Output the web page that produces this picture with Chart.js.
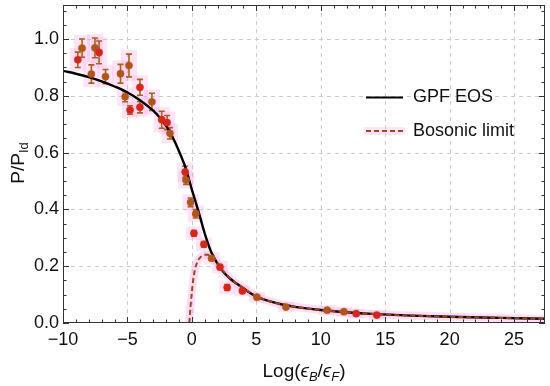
<!DOCTYPE html>
<html><head><meta charset="utf-8">
<script src="https://cdn.jsdelivr.net/npm/chart.js@4"></script>
<style>html,body{margin:0;padding:0;background:#fff}#wrap{width:550px;height:386px}</style>
</head><body><div id="wrap"><canvas id="c" width="550" height="386"></canvas></div>
<script>
// ---- data ----
const gpfX = [-10, -9, -8, -7, -6, -5, -4, -3, -2.5, -2, -1.5, -1, -0.5, 0, 0.5, 1, 1.5, 2, 2.5, 3, 3.5, 4, 5, 6, 7, 8, 10, 12, 14, 17, 20, 24, 27.4];
const gpfY = [0.888, 0.878, 0.866, 0.851, 0.833, 0.812, 0.784, 0.748, 0.724, 0.694, 0.655, 0.605, 0.548, 0.47, 0.395, 0.315, 0.25, 0.208, 0.177, 0.155, 0.138, 0.122, 0.093, 0.077, 0.065, 0.057, 0.046, 0.038, 0.032, 0.026, 0.022, 0.018, 0.015];

const bosX = [-0.2, -0.1, 0, 0.1, 0.25, 0.5, 0.75, 1, 1.25, 1.5, 1.75, 2, 2.5, 3, 4, 5, 6, 7, 8, 10, 12, 14, 17, 20, 24, 27.4];
const bosY = [0, 0.06, 0.11, 0.15, 0.19, 0.222, 0.235, 0.24, 0.24, 0.235, 0.225, 0.21, 0.18, 0.157, 0.122, 0.094, 0.077, 0.065, 0.057, 0.046, 0.038, 0.032, 0.026, 0.022, 0.018, 0.014];

const redX   = [-8.85, -7.2, -4.8, -4.03, -4.03, -2.34, -1.92, -0.52, 0.16, 0.93, 2.18, 2.74, 3.92, 12.75, 14.35];
const redY   = [0.927, 0.953, 0.750, 0.830, 0.760, 0.716, 0.706, 0.532, 0.316, 0.277, 0.197, 0.125, 0.113, 0.033, 0.028];
const redErr = [0.027, 0.040, 0.015, 0.028, 0.020, 0.030, 0.025, 0.020, 0.010, 0.010, 0.008, 0.010, 0.005, 0.003, 0.003];

const brownX   = [-8.52, -7.8, -7.52, -6.7, -5.54, -5.18, -4.88, -3.1, -1.7, -0.45, -0.1, 0.3, 1.53, 5.05, 7.3, 10.5, 11.8];
const brownY   = [0.968, 0.877, 0.969, 0.868, 0.878, 0.797, 0.907, 0.779, 0.668, 0.503, 0.425, 0.385, 0.228, 0.091, 0.056, 0.045, 0.040];
const brownErr = [0.032, 0.032, 0.035, 0.025, 0.033, 0.018, 0.040, 0.030, 0.020, 0.015, 0.015, 0.015, 0.008, 0.005, 0.004, 0.004, 0.004];

const xMajorTicks = [-10, -5, 0, 5, 10, 15, 20, 25];
const yMajorTicks = [0, 0.2, 0.4, 0.6, 0.8, 1.0];
const seriesLabels = ['GPF EOS', 'Bosonic limit'];
const xMin = -10, xMax = 27.4, yMin = 0, yMax = 1.12;

// ---- helpers ----
const pts = (xs, ys) => xs.map((v, i) => ({x: v, y: ys[i]}));
const FONT = '"Liberation Sans", Arial, sans-serif';
const errMap = {red: redErr, brown: brownErr};

const decor = {
  id: 'decor',
  beforeDatasetsDraw(chart) {
    const {ctx, chartArea: a, scales: {x, y}} = chart;
    ctx.save();
    // dashed grid
    ctx.strokeStyle = '#cccccc';
    ctx.lineWidth = 1;
    ctx.setLineDash([4, 4]);
    ctx.beginPath();
    xMajorTicks.forEach(v => {
      const px = Math.round(x.getPixelForValue(v)) + 0.5;
      if (px <= a.left + 1 || px >= a.right - 1) return;
      ctx.moveTo(px, a.top); ctx.lineTo(px, a.bottom);
    });
    yMajorTicks.forEach(v => {
      const py = Math.round(y.getPixelForValue(v)) + 0.5;
      if (py <= a.top + 1 || py >= a.bottom - 1) return;
      ctx.moveTo(a.left, py); ctx.lineTo(a.right, py);
    });
    ctx.stroke();
    ctx.setLineDash([]);
    // pink halos + error bars
    chart.data.datasets.forEach((ds) => {
      const errs = errMap[ds.label];
      if (!errs) return;
      ds.data.forEach((p, i) => {
        const px = x.getPixelForValue(p.x);
        const yt = y.getPixelForValue(p.y + errs[i]);
        const yb = y.getPixelForValue(p.y - errs[i]);
        ctx.fillStyle = 'rgba(255,150,225,0.26)';
        ctx.fillRect(px - 8, yt - 4, 16, yb - yt + 8);
      });
    });
    chart.data.datasets.forEach((ds) => {
      const errs = errMap[ds.label];
      if (!errs) return;
      ctx.strokeStyle = '#a8621f';
      ctx.lineWidth = 1.6;
      ds.data.forEach((p, i) => {
        const px = x.getPixelForValue(p.x);
        const yt = y.getPixelForValue(p.y + errs[i]);
        const yb = y.getPixelForValue(p.y - errs[i]);
        ctx.beginPath();
        ctx.moveTo(px, yt); ctx.lineTo(px, yb);
        ctx.moveTo(px - 3, yt); ctx.lineTo(px + 3, yt);
        ctx.moveTo(px - 3, yb); ctx.lineTo(px + 3, yb);
        ctx.stroke();
      });
    });
    ctx.restore();
  },
  afterDraw(chart) {
    const {ctx, chartArea: a, scales: {x, y}} = chart;
    ctx.save();
    // frame
    ctx.strokeStyle = '#333';
    ctx.lineWidth = 1;
    ctx.strokeRect(Math.round(a.left) + 0.5, Math.round(a.top) + 0.5, Math.round(a.right - a.left) - 1, Math.round(a.bottom - a.top) - 1);
    // inward ticks
    ctx.beginPath();
    for (let v = Math.ceil(xMin); v <= xMax; v++) {
      const px = Math.round(x.getPixelForValue(v)) + 0.5;
      const L = (v % 5 === 0) ? 6 : 3.5;
      ctx.moveTo(px, a.bottom); ctx.lineTo(px, a.bottom - L);
      ctx.moveTo(px, a.top); ctx.lineTo(px, a.top + L);
    }
    for (let k = 0; k * 0.05 <= yMax + 1e-9; k++) {
      const py = Math.round(y.getPixelForValue(k * 0.05)) + 0.5;
      const L = (k % 4 === 0) ? 6 : 3.5;
      ctx.moveTo(a.left, py); ctx.lineTo(a.left + L, py);
      ctx.moveTo(a.right, py); ctx.lineTo(a.right - L, py);
    }
    ctx.stroke();

    // legend
    ctx.lineWidth = 2;
    ctx.strokeStyle = '#000';
    ctx.beginPath(); ctx.moveTo(366, 97.5); ctx.lineTo(403, 97.5); ctx.stroke();
    ctx.fillStyle = 'rgba(255,170,230,0.3)';
    ctx.fillRect(364, 127, 41, 8);
    ctx.strokeStyle = '#9e4a1c';
    ctx.setLineDash([5, 3]);
    ctx.beginPath(); ctx.moveTo(366, 131); ctx.lineTo(403, 131); ctx.stroke();
    ctx.setLineDash([]);
    ctx.fillStyle = '#111';
    ctx.font = '18px ' + FONT;
    ctx.textBaseline = 'middle';
    ctx.textAlign = 'left';
    ctx.fillText(seriesLabels[0], 413, 97.5);
    ctx.fillText(seriesLabels[1], 413, 131);

    // x title: Log(ϵB/ϵF)
    const cx = (a.left + a.right) / 2, ty = 377;
    const parts = [
      {t: 'Log(', f: '19px ' + FONT, dy: 0},
      {t: '\u03F5', f: 'italic 19px ' + FONT, dy: 0},
      {t: 'B', f: 'italic 13px ' + FONT, dy: 4},
      {t: '/', f: '19px ' + FONT, dy: 0},
      {t: '\u03F5', f: 'italic 19px ' + FONT, dy: 0},
      {t: 'F', f: 'italic 13px ' + FONT, dy: 4},
      {t: ')', f: '19px ' + FONT, dy: 0}
    ];
    let w = 0;
    parts.forEach(p => { ctx.font = p.f; p.w = ctx.measureText(p.t).width; w += p.w; });
    let xx = cx - w / 2;
    ctx.textBaseline = 'alphabetic';
    parts.forEach(p => { ctx.font = p.f; ctx.fillText(p.t, xx, ty + p.dy); xx += p.w; });

    // y title: P/P_Id (rotated)
    ctx.translate(24, 163);
    ctx.rotate(-Math.PI / 2);
    const yp = [
      {t: 'P/P', f: '19px ' + FONT, dy: 0},
      {t: 'Id', f: '13px ' + FONT, dy: 4}
    ];
    w = 0;
    yp.forEach(p => { ctx.font = p.f; p.w = ctx.measureText(p.t).width; w += p.w; });
    xx = -w / 2;
    yp.forEach(p => { ctx.font = p.f; ctx.fillText(p.t, xx, p.dy); xx += p.w; });
    ctx.restore();
  }
};

new Chart(document.getElementById('c'), {
  type: 'scatter',
  data: {
    datasets: [
      {label: 'band', data: pts(bosX, bosY), showLine: true, borderColor: 'rgba(255,175,232,0.45)', borderWidth: 8, pointRadius: 0, cubicInterpolationMode: 'monotone', order: 5},
      {label: seriesLabels[0], data: pts(gpfX, gpfY), showLine: true, borderColor: '#000', borderWidth: 2.4, pointRadius: 0, cubicInterpolationMode: 'monotone', order: 3},
      {label: seriesLabels[1], data: pts(bosX, bosY), showLine: true, borderColor: '#9a4a1c', borderWidth: 2, borderDash: [5, 3], pointRadius: 0, cubicInterpolationMode: 'monotone', order: 2},
      {label: 'brown', data: pts(brownX, brownY), pointRadius: 3.6, pointBackgroundColor: '#b0561c', pointBorderColor: '#b0561c', pointBorderWidth: 0.5, order: 1},
      {label: 'red', data: pts(redX, redY), pointRadius: 3.6, pointBackgroundColor: '#d5261c', pointBorderColor: '#c8321c', pointBorderWidth: 0.5, order: 0}
    ]
  },
  options: {
    responsive: false,
    animation: false,
    events: [],
    layout: {padding: {top: 5, right: 5, left: 0, bottom: 0}},
    plugins: {legend: {display: false}, tooltip: {enabled: false}},
    scales: {
      x: {
        type: 'linear', min: xMin, max: xMax,
        afterBuildTicks: s => { s.ticks = xMajorTicks.map(v => ({value: v})); },
        afterFit: s => { s.height = 63; s.paddingLeft = 0; s.paddingRight = 0; },
        grid: {display: false, drawTicks: false, tickLength: 0},
        border: {display: false},
        ticks: {
          padding: 6, color: '#111', font: {family: FONT, size: 18},
          callback: v => (v < 0 ? '\u2212' + Math.abs(v) : String(v)), maxRotation: 0
        }
      },
      y: {
        type: 'linear', min: yMin, max: yMax,
        afterBuildTicks: s => { s.ticks = yMajorTicks.map(v => ({value: v})); },
        afterFit: s => { s.width = 63; s.paddingTop = 0; s.paddingBottom = 0; },
        grid: {display: false, drawTicks: false, tickLength: 0},
        border: {display: false},
        ticks: {
          padding: 4, color: '#111', font: {family: FONT, size: 18},
          callback: v => v.toFixed(1)
        }
      }
    }
  },
  plugins: [decor]
});
</script>
</body></html>
